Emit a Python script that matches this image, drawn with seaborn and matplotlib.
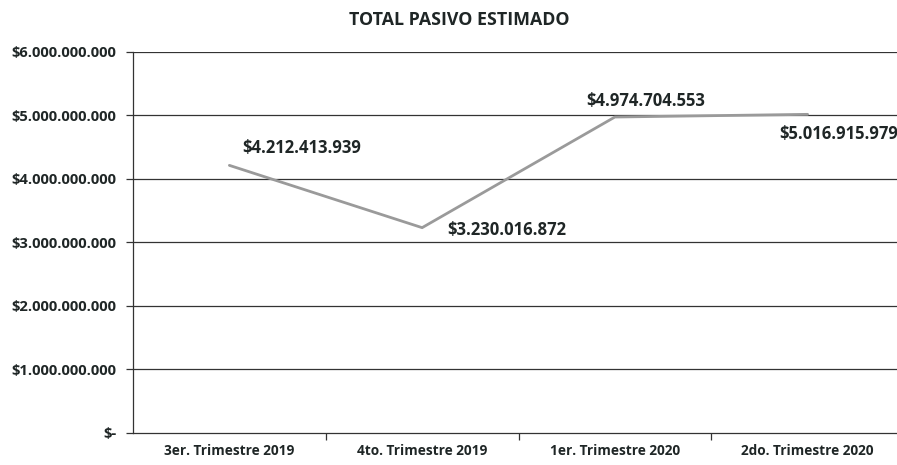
import matplotlib
matplotlib.use("Agg")
import matplotlib.pyplot as plt
import seaborn as sns
import pandas as pd
from matplotlib.ticker import FuncFormatter

categories = ["3er. Trimestre 2019", "4to. Trimestre 2019", "1er. Trimestre 2020", "2do. Trimestre 2020"]
values = [4212413939, 3230016872, 4974704553, 5016915979]
title = "TOTAL PASIVO ESTIMADO"

sns.set_theme(style="white")
plt.rcParams["font.family"] = ["Open Sans", "DejaVu Sans"]

df = pd.DataFrame({"cat": categories, "val": values, "pos": range(len(categories))})

fig = plt.figure(figsize=(8.97, 4.65), dpi=100)
ax = fig.add_axes([133 / 897, 32.5 / 465, 771 / 897, 380.5 / 465])

txt = "#1f2626"
ax.set_ylim(0, 6e9)
ax.set_xlim(-0.5, 3.5)
for y in range(1, 7):
    ax.axhline(y * 1e9, color="#333333", lw=0.9, zorder=1)

sns.lineplot(data=df, x="pos", y="val", ax=ax, color="#9a9a9a", lw=2.0, zorder=3)


def fmt(v, _):
    if v == 0:
        return "$-"
    return "$" + f"{int(round(v)):,}".replace(",", ".")


ax.yaxis.set_major_formatter(FuncFormatter(fmt))
ax.set_yticks([i * 1e9 for i in range(7)])
ax.set_xticks([0.5, 1.5, 2.5])
ax.set_xticklabels([])
ax.set_xticks(range(len(categories)), minor=True)
ax.set_xticklabels(categories, minor=True)
ax.tick_params(axis="x", which="major", direction="out", length=5, width=0.9, color="#333333", bottom=True)
ax.tick_params(axis="x", which="minor", length=0, pad=8, labelsize=9.8, labelcolor=txt)
ax.tick_params(axis="y", direction="out", length=5, width=0.9, color="#333333", left=True, pad=7,
               labelsize=10.6, labelcolor=txt)
for lab in ax.get_xticklabels(minor=True) + ax.get_yticklabels():
    lab.set_fontweight("bold")

for s in ["top", "right"]:
    ax.spines[s].set_visible(False)
ax.spines["left"].set_color("#333333")
ax.spines["left"].set_linewidth(0.9)
ax.spines["bottom"].set_color("#333333")
ax.spines["bottom"].set_linewidth(0.9)
ax.set_xlabel("")
ax.set_ylabel("")

offsets = [(13, 17, "left", "center"), (25, -2, "left", "center"), (-29, 16, "left", "center"), (-28, -20, "left", "center")]
for i, v in enumerate(values):
    dx, dy, ha, va = offsets[i]
    ax.annotate(fmt(v, None), (i, v), xytext=(dx, dy), textcoords="offset pixels",
                ha=ha, va=va, fontsize=12, fontweight="bold", color=txt, zorder=4)

fig.text(459 / 897, 1 - 20 / 465, title, ha="center", va="center", fontsize=12.8, fontweight="bold", color=txt)

fig.savefig("out.png", dpi=100)
